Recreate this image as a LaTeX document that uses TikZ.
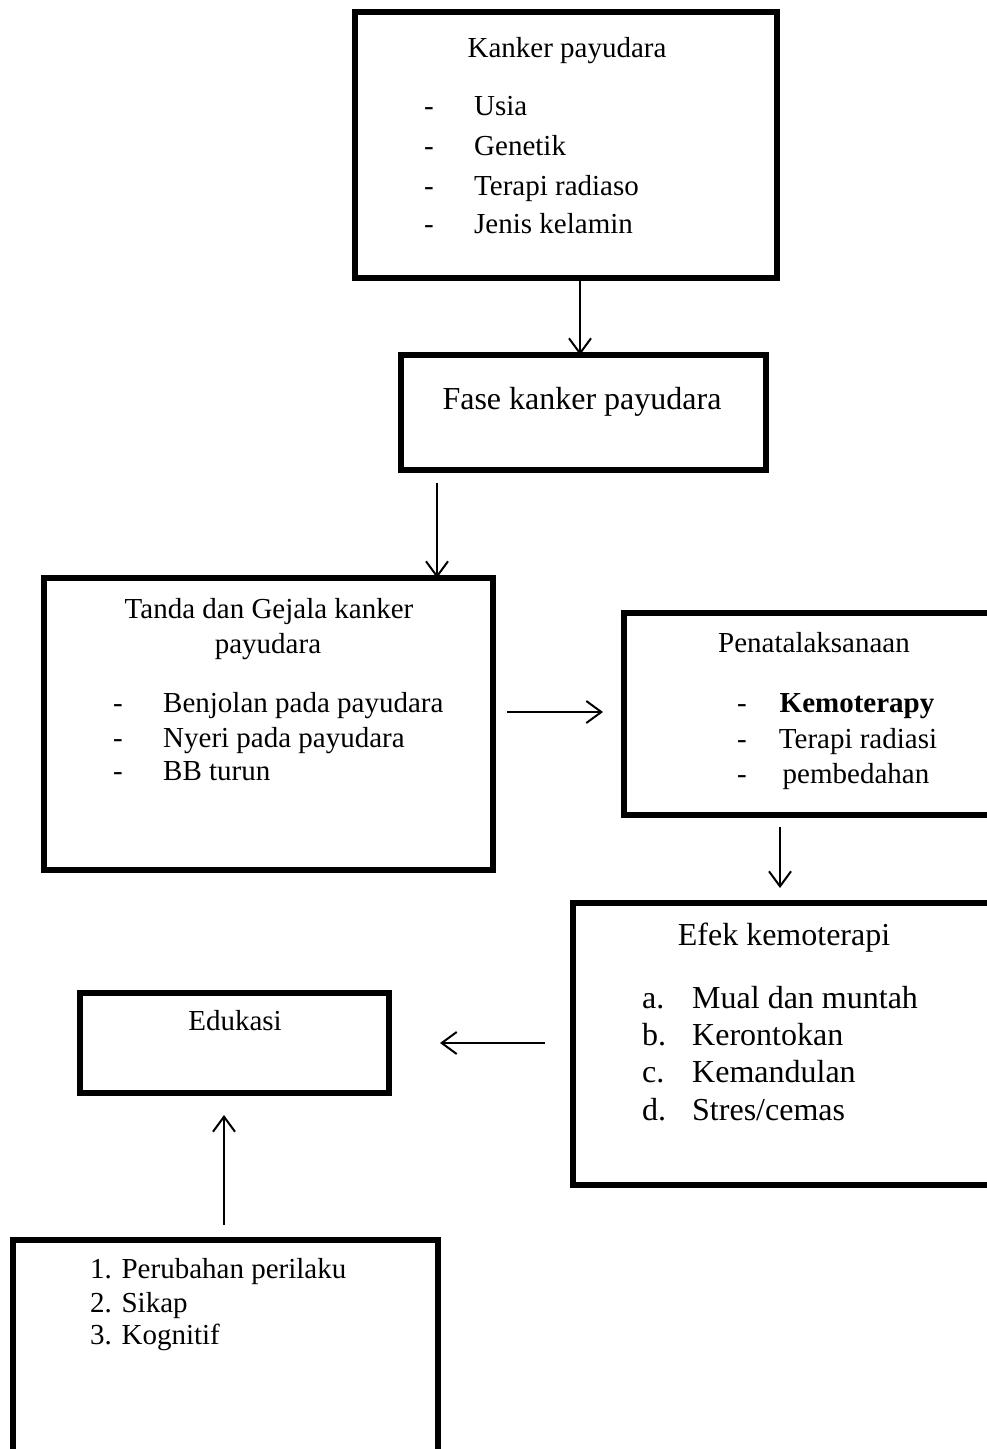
\documentclass[tikz,border=0pt]{standalone}
\usepackage{fontspec}
\setmainfont{Liberation Serif}
\usetikzlibrary{arrows.meta,fit}
\begin{document}
\begin{tikzpicture}[x=1pt,y=-1pt,
  box/.style={draw,line width=5.5pt,inner sep=0pt,outer sep=0pt},
  arr/.style={line width=2pt,-{Straight Barb[length=15pt,width=22pt,line width=2pt]}},
  txt/.style={inner sep=0pt,anchor=base west,font=\fontsize{29}{34}\selectfont},
  ctxt/.style={txt,anchor=base},
  btxt/.style={inner sep=0pt,anchor=base west,font=\fontsize{32}{38}\selectfont},
  bctxt/.style={btxt,anchor=base}]
\clip (0,0) rectangle (987,1449);
\fill[white] (0,0) rectangle (987,1449);
% boxes
\node[box,fit={(355,12) (777,278)}] (b1) {};
\node[box,fit={(401,355) (766,470)}] (b2) {};
\node[box,fit={(44,578) (493,870)}] (b3) {};
\node[box,fit={(624,613) (1010,815)}] (b4) {};
\node[box,fit={(573,903) (1010,1185)}] (b5) {};
\node[box,fit={(80,993) (389,1093)}] (b6) {};
\node[box,fit={(13,1240) (438,1470)}] (b7) {};
% box 1 text
\node[ctxt] (t1) at (567,57) {Kanker payudara};
\node[ctxt] (d11) at (429,115) {-};
\node[txt] (l11) at (474,115) {Usia};
\node[ctxt] (d12) at (429,155) {-};
\node[txt] (l12) at (474,155) {Genetik};
\node[ctxt] (d13) at (429,195) {-};
\node[txt] (l13) at (474,195) {Terapi radiaso};
\node[ctxt] (d14) at (429,233) {-};
\node[txt] (l14) at (474,233) {Jenis kelamin};
% box 2
\node[bctxt] (t2) at (582,409) {Fase kanker payudara};
% box 3
\node[ctxt] (t3a) at (269,618) {Tanda dan Gejala kanker};
\node[ctxt] (t3b) at (268,653) {payudara};
\node[ctxt] (d31) at (118,712) {-};
\node[txt] (l31) at (163,712) {Benjolan pada payudara};
\node[ctxt] (d32) at (118,747) {-};
\node[txt] (l32) at (163,747) {Nyeri pada payudara};
\node[ctxt] (d33) at (118,780) {-};
\node[txt] (l33) at (163,780) {BB turun};
% box 4
\node[ctxt] (t4) at (814,652) {Penatalaksanaan};
\node[ctxt] (d41) at (742,712) {-};
\node[ctxt] (l41) at (857,712) {\bfseries Kemoterapy};
\node[ctxt] (d42) at (742,748) {-};
\node[ctxt] (l42) at (858,748) {Terapi radiasi};
\node[ctxt] (d43) at (742,783) {-};
\node[ctxt] (l43) at (856,783) {pembedahan};
% box 5
\node[bctxt] (t5) at (784,945) {Efek kemoterapi};
\node[btxt] (e1) at (642,1008) {a.};
\node[btxt] (l51) at (692,1008) {Mual dan muntah};
\node[btxt] (e2) at (642,1045) {b.};
\node[btxt] (l52) at (692,1045) {Kerontokan};
\node[btxt] (e3) at (642,1082) {c.};
\node[btxt] (l53) at (692,1082) {Kemandulan};
\node[btxt] (e4) at (642,1120) {d.};
\node[btxt] (l54) at (692,1120) {Stres/cemas};
% box 6
\node[ctxt] (t6) at (235,1030) {Edukasi};
% box 7
\node[txt] (l71) at (90,1278) {1. Perubahan perilaku};
\node[txt] (l72) at (90,1312) {2. Sikap};
\node[txt] (l73) at (90,1344) {3. Kognitif};
% connectors
\coordinate (a1) at (580,278);
\draw[arr] (a1) -- (b2.north -| a1);
\coordinate (a2s) at (437,483);
\draw[arr] (a2s) -- (b3.north -| a2s);
\coordinate (a3s) at (507,712);
\coordinate (a3e) at (603,712);
\draw[arr] (a3s) -- (a3e);
\coordinate (a4s) at (780,827);
\coordinate (a4e) at (780,888);
\draw[arr] (a4s) -- (a4e);
\coordinate (a5s) at (545,1043);
\coordinate (a5e) at (440,1043);
\draw[arr] (a5s) -- (a5e);
\coordinate (a6s) at (224,1225);
\coordinate (a6e) at (224,1115);
\draw[arr] (a6s) -- (a6e);
\end{tikzpicture}
\end{document}
